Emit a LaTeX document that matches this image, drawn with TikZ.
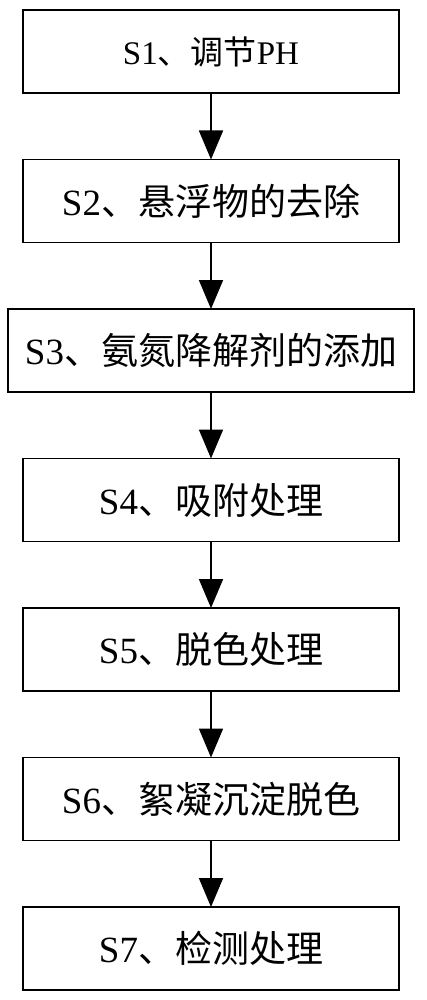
\documentclass[tikz,border=0pt]{standalone}
\usepackage{fontspec}
\setmainfont{Liberation Serif}
\newfontfamily\cjk{Noto Sans CJK SC}
\usetikzlibrary{positioning, arrows.meta}
\tikzset{
every node/.style={font=\fontsize{37}{40}\selectfont}, % sets the text size of each box
stepbox/.style={draw, line width=1.8pt, minimum width=376pt, minimum height=83pt, inner sep=0pt, outer sep=0pt}, % sets the properties for each step box
flow/.style={line width=1.8pt, -{Triangle[width=24pt,length=29pt]}}, % sets the arrows between the boxes
node distance=66.5pt, % vertical gap between two boxes
}
\begin{document}
\begin{tikzpicture}
        \useasboundingbox (0pt,0pt) rectangle (427pt,-1000pt);
        \node[stepbox, font=\fontsize{33}{36}\selectfont] (S1) at (211pt,-51.5pt) {S1{\cjk 、调节}PH};
        \node[stepbox, below=of S1] (S2) {S2{\cjk 、悬浮物的去除}};
        \node[stepbox, below=of S2, minimum width=406pt] (S3) {S3{\cjk 、氨氮降解剂的添加}};
        \node[stepbox, below=of S3] (S4) {S4{\cjk 、吸附处理}};
        \node[stepbox, below=of S4] (S5) {S5{\cjk 、脱色处理}};
        \node[stepbox, below=of S5] (S6) {S6{\cjk 、絮凝沉淀脱色}};
        \node[stepbox, below=of S6] (S7) {S7{\cjk 、检测处理}};

        \draw[flow] (S1) -- (S2);
        \draw[flow] (S2) -- (S3);
        \draw[flow] (S3) -- (S4);
        \draw[flow] (S4) -- (S5);
        \draw[flow] (S5) -- (S6);
        \draw[flow] (S6) -- (S7);
\end{tikzpicture}
\end{document}
